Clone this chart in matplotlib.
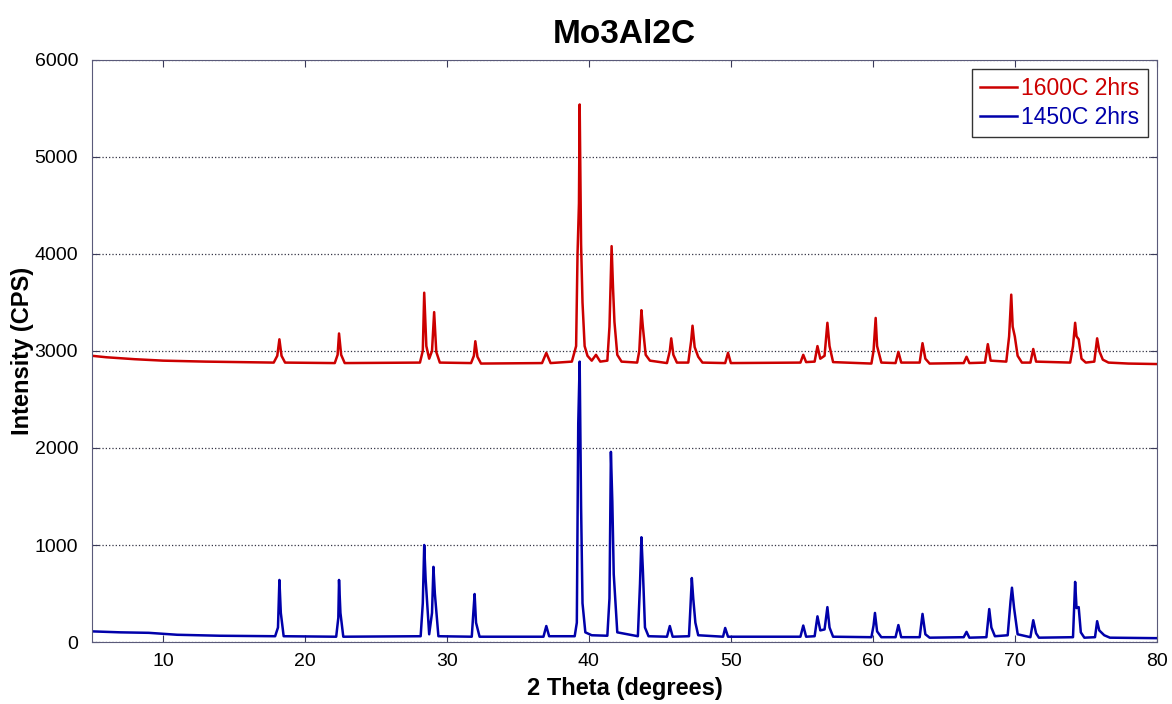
import matplotlib
matplotlib.use('Agg')
import matplotlib.pyplot as plt

plt.rcParams['font.family'] = ['Liberation Sans', 'DejaVu Sans']

# XRD trace points (2 theta, CPS)
red_x = [5.0, 6.0, 8.0, 10.0, 13.0, 17.8, 18.05, 18.2, 18.35, 18.6,
         22.1, 22.3, 22.4, 22.55, 22.8, 28.1, 28.3, 28.4, 28.55, 28.75,
         28.95, 29.1, 29.25, 29.5, 31.7, 31.9, 32.0, 32.15, 32.4, 36.7,
         37.0, 37.3, 38.8, 39.1, 39.2, 39.3, 39.35, 39.45, 39.55, 39.7,
         39.9, 40.2, 40.5, 40.8, 41.3, 41.45, 41.6, 41.7, 41.8, 42.0,
         42.3, 43.4, 43.55, 43.7, 43.8, 44.0, 44.3, 45.5, 45.7, 45.8,
         45.95, 46.2, 47.0, 47.2, 47.3, 47.45, 47.7, 48.0, 49.6, 49.8,
         50.0, 54.9, 55.1, 55.3, 55.9, 56.1, 56.3, 56.6, 56.8, 56.95,
         57.2, 59.9, 60.05, 60.2, 60.3, 60.6, 61.6, 61.8, 62.0, 63.3,
         63.5, 63.7, 64.0, 66.4, 66.6, 66.8, 67.9, 68.1, 68.3, 69.4,
         69.6, 69.75, 69.85, 70.0, 70.2, 70.5, 71.1, 71.3, 71.5, 73.9,
         74.1, 74.25, 74.35, 74.5, 74.7, 75.0, 75.6, 75.8, 75.95, 76.2,
         76.6, 78.0, 80.0]
red_y = [2950, 2935, 2915, 2900, 2890, 2880, 2950, 3120, 2950, 2880,
         2875, 2960, 3180, 2960, 2875, 2880, 3000, 3600, 3050, 2920,
         3000, 3400, 2990, 2880, 2875, 2950, 3100, 2940, 2870, 2875,
         2980, 2875, 2890, 3050, 4000, 4520, 5540, 4100, 3500, 3050,
         2950, 2900, 2960, 2890, 2900, 3250, 4080, 3650, 3300, 2960,
         2890, 2880, 3000, 3420, 3250, 2960, 2900, 2875, 3000, 3130,
         2960, 2880, 2880, 3100, 3260, 3040, 2940, 2880, 2875, 2980,
         2875, 2880, 2960, 2885, 2890, 3050, 2920, 2950, 3290, 3050,
         2885, 2870, 3000, 3340, 3050, 2880, 2875, 2990, 2880, 2880,
         3080, 2920, 2870, 2875, 2940, 2875, 2880, 3070, 2900, 2890,
         3150, 3580, 3250, 3150, 2950, 2880, 2880, 3020, 2890, 2880,
         3050, 3290, 3150, 3120, 2920, 2880, 2890, 3130, 3000, 2910,
         2880, 2870, 2865]

blue_x = [5.0, 7.0, 9.0, 11.0, 14.0, 17.9, 18.1, 18.2, 18.3, 18.5,
          22.2, 22.35, 22.4, 22.5, 22.7, 28.15, 28.3, 28.4, 28.5, 28.75,
          28.95, 29.05, 29.15, 29.4, 31.75, 31.85, 31.95, 32.05, 32.3, 36.8,
          37.0, 37.2, 39.0, 39.15, 39.25, 39.35, 39.45, 39.55, 39.75, 40.2,
          41.3, 41.45, 41.55, 41.65, 41.75, 42.0, 43.45, 43.6, 43.7, 43.8,
          43.95, 44.2, 45.5, 45.7, 45.9, 47.05, 47.15, 47.25, 47.35, 47.5,
          47.7, 49.45, 49.6, 49.8, 54.9, 55.1, 55.3, 55.9, 56.1, 56.3,
          56.6, 56.8, 56.95, 57.2, 59.9, 60.05, 60.15, 60.3, 60.6, 61.6,
          61.8, 62.0, 63.3, 63.5, 63.7, 64.0, 66.4, 66.6, 66.8, 68.0,
          68.2, 68.35, 68.6, 69.5, 69.7, 69.8, 69.95, 70.2, 71.1, 71.3,
          71.5, 71.7, 74.1, 74.25, 74.35, 74.5, 74.65, 74.9, 75.65, 75.8,
          75.95, 76.3, 76.7, 80.0]
blue_y = [110, 100, 95, 75, 65, 60, 150, 640, 300, 60,
          55, 250, 640, 300, 55, 60, 400, 1000, 650, 80,
          300, 775, 500, 60, 55, 280, 495, 200, 55, 55,
          165, 60, 60, 200, 2250, 2890, 1400, 400, 100, 70,
          65, 450, 1960, 1450, 700, 100, 60, 600, 1080, 750,
          150, 60, 55, 165, 55, 60, 350, 660, 450, 200,
          70, 55, 145, 55, 55, 170, 55, 60, 265, 120,
          130, 360, 150, 55, 50, 170, 300, 110, 50, 50,
          175, 50, 50, 290, 80, 45, 50, 105, 45, 50,
          340, 150, 60, 70, 420, 560, 350, 80, 50, 225,
          90, 45, 50, 620, 350, 360, 100, 45, 50, 215,
          120, 70, 45, 40]

series_labels = ['1600C 2hrs', '1450C 2hrs']
colors = ['#CC0000', '#0000AA']

fig = plt.figure(figsize=(11.72, 7.04), dpi=100, facecolor='white')
ax = fig.add_axes([0.0785, 0.088, 0.9085, 0.827])

ax.plot(red_x, red_y, color=colors[0], linewidth=1.8, label=series_labels[0])
ax.plot(blue_x, blue_y, color=colors[1], linewidth=1.8, label=series_labels[1])

ax.set_xlim(5, 80)
ax.set_ylim(0, 6000)
ax.set_xticks(range(10, 81, 10))
ax.set_yticks(range(0, 6001, 1000))
ax.tick_params(direction='in', top=True, right=True, labelsize=14, length=5,
               color='#3a3a5a')
ax.tick_params(axis='x', pad=8)
ax.tick_params(axis='y', pad=10)
for spine in ax.spines.values():
    spine.set_color('#5a5a7a')

# horizontal dotted grid only
ax.yaxis.grid(True, linestyle=':', color='#333344', linewidth=0.9)
ax.set_axisbelow(True)

ax.set_title('Mo3Al2C', fontsize=24, fontweight='bold', pad=12)
ax.set_xlabel('2 Theta (degrees)', fontsize=17, fontweight='bold', labelpad=5)
ax.set_ylabel('Intensity (CPS)', fontsize=17, fontweight='bold', labelpad=0)

leg = ax.legend(loc='upper right', fontsize=16.5, frameon=True, fancybox=False,
                handlelength=1.6, handletextpad=0.2, borderpad=0.35,
                labelspacing=0.25, borderaxespad=0.4)
leg.get_frame().set_edgecolor('black')
leg.get_frame().set_linewidth(1.0)
for txt, c in zip(leg.get_texts(), colors):
    txt.set_color(c)

plt.savefig('out.png', dpi=100, facecolor='white')
plt.close()
